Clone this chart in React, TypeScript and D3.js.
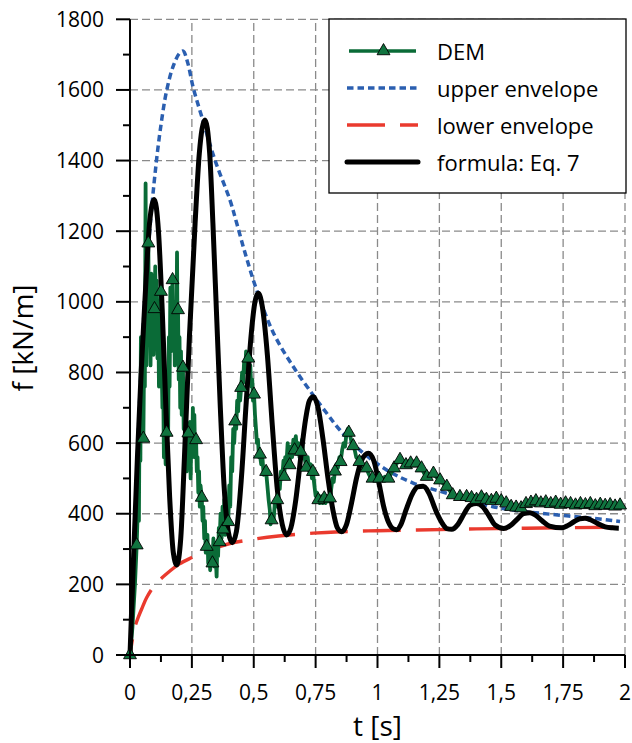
import React from 'react';
import * as d3 from 'd3';

const W = 632;
const H = 743;
const X0 = 130, X1 = 625, Y0 = 655, Y1 = 19.3;

const xTicks = [0, 0.25, 0.5, 0.75, 1, 1.25, 1.5, 1.75, 2];
const xTickLabels = ['0', '0,25', '0,5', '0,75', '1', '1,25', '1,5', '1,75', '2'];
const xMinor = [0.125, 0.375, 0.625, 0.875, 1.125, 1.375, 1.625, 1.875];
const yTicks = [0, 200, 400, 600, 800, 1000, 1200, 1400, 1600, 1800];
const yTickLabels = ['0', '200', '400', '600', '800', '1000', '1200', '1400', '1600', '1800'];
const yMinor = [100, 300, 500, 700, 900, 1100, 1300, 1500, 1700];

const legendLabels = ['DEM', 'upper envelope', 'lower envelope', 'formula: Eq. 7'];

const upperEnvelope: [number, number][] = [
  [0, 0], [0.01, 190], [0.02, 370], [0.03, 560], [0.04, 740], [0.055, 950], [0.07, 1115],
  [0.085, 1245], [0.1, 1355], [0.121, 1480], [0.148, 1598], [0.175, 1668], [0.2, 1704],
  [0.215, 1710], [0.232, 1680], [0.256, 1605], [0.29, 1524], [0.343, 1402], [0.404, 1288],
  [0.431, 1223], [0.465, 1138], [0.512, 1033], [0.58, 911], [0.66, 816], [0.741, 735],
  [0.8, 680], [0.848, 637], [0.929, 580], [1.037, 524], [1.144, 487], [1.28, 458],
  [1.467, 420], [1.6, 406], [1.737, 396], [1.87, 387], [1.98, 378],
];

const lowerEnvelope: [number, number][] = [
  [0, 0], [0.01, 45], [0.02, 80], [0.034, 108], [0.05, 135], [0.067, 162], [0.1, 198],
  [0.148, 230], [0.2, 258], [0.25, 276], [0.3, 292], [0.4, 315], [0.5, 328], [0.6, 337],
  [0.74, 345], [0.85, 349], [1.0, 352], [1.16, 354], [1.4, 357], [1.6, 359], [1.98, 362],
];

const formula: [number, number][] = [
  [0, 0], [0.016, 307], [0.03, 560], [0.045, 800], [0.06, 1000], [0.08, 1230], [0.098, 1290],
  [0.115, 1200], [0.13, 980], [0.145, 700], [0.16, 450], [0.175, 290], [0.189, 255],
  [0.205, 330], [0.22, 560], [0.24, 900], [0.263, 1222], [0.28, 1420], [0.303, 1515],
  [0.322, 1420], [0.335, 1222], [0.35, 960], [0.365, 700], [0.38, 480], [0.397, 350],
  [0.413, 318], [0.43, 350], [0.45, 500], [0.47, 720], [0.49, 910], [0.505, 1000],
  [0.518, 1024], [0.535, 985], [0.555, 850], [0.575, 650], [0.595, 470], [0.615, 370],
  [0.633, 340], [0.65, 360], [0.67, 440], [0.69, 560], [0.71, 670], [0.725, 720],
  [0.741, 731], [0.76, 700], [0.78, 610], [0.8, 500], [0.82, 410], [0.838, 360],
  [0.855, 349], [0.875, 370], [0.895, 430], [0.915, 500], [0.935, 550], [0.963, 571],
  [0.985, 550], [1.005, 490], [1.025, 420], [1.045, 375], [1.062, 358], [1.077, 355],
  [1.095, 370], [1.115, 410], [1.14, 455], [1.162, 476], [1.185, 478], [1.21, 455],
  [1.235, 410], [1.26, 375], [1.28, 358], [1.3, 356], [1.325, 370], [1.35, 400],
  [1.375, 425], [1.4, 429], [1.425, 420], [1.45, 395], [1.475, 368], [1.51, 358],
  [1.54, 368], [1.565, 385], [1.59, 400], [1.616, 403], [1.64, 395], [1.665, 380],
  [1.695, 365], [1.745, 360], [1.77, 367], [1.795, 378], [1.818, 386], [1.838, 387],
  [1.86, 383], [1.89, 372], [1.92, 363], [1.95, 360], [1.975, 359],
];

const demLine: [number, number][] = [
  [0, 0], [0.01, 80], [0.02, 200], [0.027, 311], [0.033, 450], [0.036, 380], [0.038, 620], [0.042, 550],
  [0.044, 900], [0.046, 780], [0.048, 640], [0.05, 700], [0.054, 613], [0.057, 850], [0.06, 760], [0.063, 1335],
  [0.066, 820], [0.069, 1050], [0.072, 900], [0.074, 1166], [0.077, 880], [0.08, 1000],
  [0.083, 820], [0.086, 1080], [0.089, 900], [0.092, 1050], [0.095, 850], [0.099, 980],
  [0.102, 1100], [0.105, 880], [0.108, 1060], [0.111, 840], [0.114, 990], [0.117, 760],
  [0.12, 900], [0.125, 1029], [0.128, 820], [0.131, 700], [0.134, 780], [0.137, 560],
  [0.14, 660], [0.144, 540], [0.148, 630], [0.151, 780], [0.154, 620], [0.157, 900],
  [0.16, 760], [0.163, 1040], [0.166, 860], [0.169, 980], [0.172, 1062], [0.175, 900],
  [0.178, 1000], [0.181, 820], [0.184, 960], [0.187, 860], [0.19, 1140], [0.192, 900],
  [0.194, 977], [0.197, 780], [0.2, 900], [0.203, 700], [0.206, 860], [0.209, 680],
  [0.212, 760], [0.214, 814], [0.217, 640], [0.22, 720], [0.223, 560], [0.226, 660],
  [0.229, 520], [0.232, 620], [0.236, 628], [0.239, 540], [0.242, 660], [0.245, 500],
  [0.248, 640], [0.251, 560], [0.254, 700], [0.257, 580], [0.26, 680], [0.263, 560],
  [0.267, 609], [0.27, 520], [0.273, 560], [0.276, 460], [0.279, 520], [0.282, 420],
  [0.285, 480], [0.29, 446], [0.293, 380], [0.296, 420], [0.3, 330], [0.303, 380],
  [0.306, 290], [0.31, 307], [0.313, 340], [0.316, 260], [0.32, 300], [0.324, 240],
  [0.328, 290], [0.333, 260], [0.337, 330], [0.341, 250], [0.345, 300], [0.35, 222],
  [0.353, 320], [0.356, 280], [0.359, 360], [0.362, 320], [0.366, 400], [0.37, 330],
  [0.374, 420], [0.377, 356], [0.381, 440], [0.385, 340], [0.389, 400], [0.393, 360],
  [0.397, 377], [0.401, 480], [0.405, 420], [0.409, 560], [0.413, 520], [0.417, 640],
  [0.421, 600], [0.425, 662], [0.429, 640], [0.433, 720], [0.437, 690], [0.441, 760],
  [0.445, 720], [0.449, 757], [0.453, 800], [0.457, 770], [0.461, 830], [0.465, 800],
  [0.469, 860], [0.473, 810], [0.478, 840], [0.482, 790], [0.486, 820], [0.49, 760],
  [0.494, 780], [0.497, 720], [0.501, 738], [0.505, 680], [0.509, 640], [0.513, 600],
  [0.517, 610], [0.521, 560], [0.525, 568], [0.53, 540], [0.535, 560], [0.54, 510],
  [0.545, 530], [0.55, 519], [0.555, 480], [0.56, 440], [0.565, 410], [0.568, 370],
  [0.572, 382], [0.576, 400], [0.58, 380], [0.585, 430], [0.59, 420], [0.595, 439],
  [0.6, 480], [0.605, 470], [0.61, 520], [0.615, 500], [0.62, 550], [0.623, 505],
  [0.627, 560], [0.632, 540], [0.637, 600], [0.641, 560], [0.645, 538], [0.65, 590],
  [0.655, 560], [0.66, 610], [0.665, 580], [0.67, 620], [0.675, 570], [0.68, 600],
  [0.685, 560], [0.69, 576], [0.695, 610], [0.7, 570], [0.705, 560], [0.712, 531],
  [0.718, 560], [0.724, 520], [0.73, 540], [0.735, 500], [0.739, 519], [0.745, 480],
  [0.75, 450], [0.755, 460], [0.761, 439], [0.767, 430], [0.773, 450], [0.779, 430],
  [0.785, 444], [0.79, 430], [0.796, 450], [0.802, 435], [0.808, 444], [0.813, 470],
  [0.818, 500], [0.823, 490], [0.828, 520], [0.834, 540], [0.84, 530], [0.846, 560],
  [0.851, 547], [0.857, 580], [0.863, 600], [0.869, 590], [0.875, 630], [0.88, 640],
  [0.884, 630], [0.89, 620], [0.896, 600], [0.902, 592], [0.908, 580], [0.914, 560],
  [0.92, 555], [0.927, 547], [0.935, 540], [0.942, 530], [0.949, 535], [0.956, 529],
  [0.963, 515], [0.97, 505], [0.98, 500], [0.99, 495], [1.0, 505], [1.007, 500],
  [1.02, 495], [1.03, 505], [1.044, 500], [1.055, 515], [1.067, 529], [1.08, 545],
  [1.091, 553], [1.1, 545], [1.115, 538], [1.125, 548], [1.134, 543], [1.145, 548],
  [1.158, 543], [1.168, 535], [1.178, 529], [1.19, 512], [1.199, 505], [1.212, 512],
  [1.226, 514], [1.24, 502], [1.253, 495], [1.266, 485], [1.28, 477], [1.292, 465],
  [1.304, 453], [1.318, 450], [1.333, 448], [1.347, 446], [1.36, 448], [1.37, 452],
  [1.38, 445], [1.39, 450], [1.4, 440], [1.41, 446], [1.42, 447], [1.43, 452], [1.44, 440],
  [1.45, 444], [1.46, 437], [1.47, 446], [1.48, 443], [1.49, 438], [1.5, 436], [1.51, 433],
  [1.52, 430], [1.53, 425], [1.54, 420], [1.55, 424], [1.56, 418], [1.57, 420], [1.58, 416],
  [1.59, 424], [1.6, 428], [1.61, 434], [1.62, 432], [1.63, 438], [1.64, 436], [1.65, 430],
  [1.66, 430], [1.67, 436], [1.68, 433], [1.69, 430], [1.7, 428], [1.71, 434], [1.72, 432],
  [1.73, 427], [1.74, 426], [1.75, 431], [1.76, 430], [1.77, 426], [1.78, 428], [1.79, 425],
  [1.8, 424], [1.81, 429], [1.82, 428], [1.83, 424], [1.84, 425], [1.85, 429], [1.86, 428],
  [1.87, 423], [1.88, 422], [1.89, 427], [1.9, 426], [1.91, 422], [1.92, 423], [1.93, 426],
  [1.94, 425], [1.95, 421], [1.96, 421], [1.97, 425], [1.98, 424],
];

const demMarkers: [number, number][] = [
  [0, 0], [0.027, 311], [0.054, 613], [0.074, 1166], [0.099, 980], [0.125, 1029],
  [0.148, 630], [0.172, 1062], [0.194, 977], [0.214, 814], [0.236, 628], [0.267, 609],
  [0.29, 446], [0.31, 307], [0.333, 260], [0.362, 320], [0.377, 356], [0.397, 377],
  [0.425, 662], [0.449, 757], [0.478, 840], [0.501, 738], [0.525, 568], [0.55, 519],
  [0.572, 382], [0.595, 439], [0.623, 505], [0.645, 538], [0.665, 580], [0.69, 576],
  [0.712, 531], [0.739, 519], [0.761, 439], [0.785, 444], [0.808, 444], [0.828, 520],
  [0.851, 547], [0.884, 630], [0.902, 592], [0.927, 547], [0.956, 529], [0.98, 500],
  [1.007, 500], [1.044, 500], [1.067, 529], [1.091, 553], [1.115, 538], [1.134, 543],
  [1.158, 543], [1.178, 529], [1.199, 505], [1.226, 514], [1.253, 495], [1.28, 477],
  [1.304, 453], [1.333, 448], [1.36, 448], [1.38, 445], [1.4, 440], [1.42, 447],
  [1.44, 440], [1.46, 437], [1.48, 443], [1.5, 436], [1.52, 430], [1.54, 420], [1.56, 418],
  [1.58, 416], [1.6, 428], [1.62, 432], [1.64, 436], [1.66, 430], [1.68, 433], [1.7, 428],
  [1.72, 432], [1.74, 426], [1.76, 430], [1.78, 428], [1.8, 424], [1.82, 428], [1.84, 425],
  [1.86, 428], [1.88, 422], [1.9, 426], [1.92, 423], [1.94, 425], [1.96, 421], [1.98, 424],
];

const GREEN = '#0a6b37';
const GREEN_FILL = '#10743f';
const BLUE = '#2b5fb0';
const RED = '#ea3a2e';
const GRID = '#8a8a8a';
const FONT = '"Open Sans", "DejaVu Sans", sans-serif';

export default function App() {
  const x = d3.scaleLinear().domain([0, 2]).range([X0, X1]);
  const y = d3.scaleLinear().domain([0, 1800]).range([Y0, Y1]);

  const smooth = d3.line<[number, number]>().x(d => x(d[0])).y(d => y(d[1])).curve(d3.curveMonotoneX);
  const rounded = d3.line<[number, number]>().x(d => x(d[0])).y(d => y(d[1])).curve(d3.curveCatmullRom.alpha(0.5));
  const straight = d3.line<[number, number]>().x(d => x(d[0])).y(d => y(d[1]));
  const tri = d3.symbol().type(d3.symbolTriangle).size(72)();

  const lgX0 = 347, lgX1 = 418, lgTextX = 437;
  const lgY = [51, 88, 125, 162];

  return (
    <svg width={W} height={H} style={{ position: 'absolute', left: 0, top: 0, background: '#fff' }}>
      <rect x={0} y={0} width={W} height={H} fill="#fff" />
      {/* grid */}
      <g stroke={GRID} strokeWidth={1.3} strokeDasharray="8,4" fill="none">
        {xTicks.filter(t => t > 0).map(t => (
          <line key={'gx' + t} x1={x(t)} x2={x(t)} y1={y(0)} y2={y(1800)} />
        ))}
        {yTicks.filter(v => v > 0).map(v => (
          <line key={'gy' + v} x1={x(0)} x2={x(2)} y1={y(v)} y2={y(v)} />
        ))}
      </g>

      {/* envelopes */}
      <path d={rounded(lowerEnvelope) || ''} fill="none" stroke={RED} strokeWidth={3.4} strokeDasharray="38,15" strokeDashoffset={22} />
      <path d={rounded(upperEnvelope) || ''} fill="none" stroke={BLUE} strokeWidth={3.5} strokeDasharray="6.5,4" />

      {/* DEM line */}
      <path d={straight(demLine) || ''} fill="none" stroke={GREEN} strokeWidth={3.8} strokeLinejoin="round" />

      {/* formula */}
      <path d={smooth(formula) || ''} fill="none" stroke="#000" strokeWidth={5} strokeLinejoin="round" />

      {/* DEM markers */}
      <g fill={GREEN_FILL} stroke="#000" strokeWidth={0.9}>
        {demMarkers.map((d, i) => (
          <path key={'m' + i} d={tri || ''} transform={`translate(${x(d[0])},${y(d[1])})`} />
        ))}
      </g>

      {/* axes */}
      <g stroke="#000" strokeWidth={2}>
        <line x1={X0} x2={X0} y1={Y1} y2={Y0 + 1} />
        <line x1={X0 - 1} x2={X1} y1={Y0} y2={Y0} />
        {yTicks.map(v => <line key={'yt' + v} x1={X0 - 14} x2={X0} y1={y(v)} y2={y(v)} />)}
        {yMinor.map(v => <line key={'ym' + v} x1={X0 - 7} x2={X0} y1={y(v)} y2={y(v)} />)}
        {xTicks.map(t => <line key={'xt' + t} x1={x(t)} x2={x(t)} y1={Y0} y2={Y0 + 13} />)}
        {xMinor.map(t => <line key={'xm' + t} x1={x(t)} x2={x(t)} y1={Y0} y2={Y0 + 7} />)}
      </g>
      <g fontFamily={FONT} fontSize={21} fill="#000">
        {yTicks.map((v, i) => (
          <text key={'yl' + v} x={104} y={y(v) + 7.5} textAnchor="end">{yTickLabels[i]}</text>
        ))}
        {xTicks.map((t, i) => (
          <text key={'xl' + t} x={x(t)} y={700} textAnchor="middle">{xTickLabels[i]}</text>
        ))}
      </g>
      <text x={x(1)} y={736} textAnchor="middle" fontFamily={FONT} fontSize={28}>t [s]</text>
      <text transform="translate(33,338) rotate(-90)" textAnchor="middle" fontFamily={FONT} fontSize={28}>f [kN/m]</text>

      {/* legend */}
      <rect x={329} y={19} width={297} height={174} fill="#fff" stroke="#000" strokeWidth={1.3} />
      <line x1={lgX0 + 2} x2={lgX1 - 2} y1={lgY[0]} y2={lgY[0]} stroke={GREEN} strokeWidth={3.4} />
      <path d={tri || ''} transform={`translate(${(lgX0 + lgX1) / 2 + 1},${lgY[0]})`} fill={GREEN_FILL} stroke="#000" strokeWidth={0.9} />
      <line x1={lgX0} x2={lgX1} y1={lgY[1]} y2={lgY[1]} stroke={BLUE} strokeWidth={3.5} strokeDasharray="6.5,4" />
      <line x1={lgX0} x2={lgX1} y1={lgY[2]} y2={lgY[2]} stroke={RED} strokeWidth={3.4} strokeDasharray="38,15" />
      <line x1={lgX0} x2={lgX1} y1={lgY[3]} y2={lgY[3]} stroke="#000" strokeWidth={5} strokeLinecap="round" />
      <g fontFamily={FONT} fontSize={22} fill="#000">
        {legendLabels.map((l, i) => (
          <text key={l} x={lgTextX} y={lgY[i] + 8.5}>{l}</text>
        ))}
      </g>
    </svg>
  );
}
